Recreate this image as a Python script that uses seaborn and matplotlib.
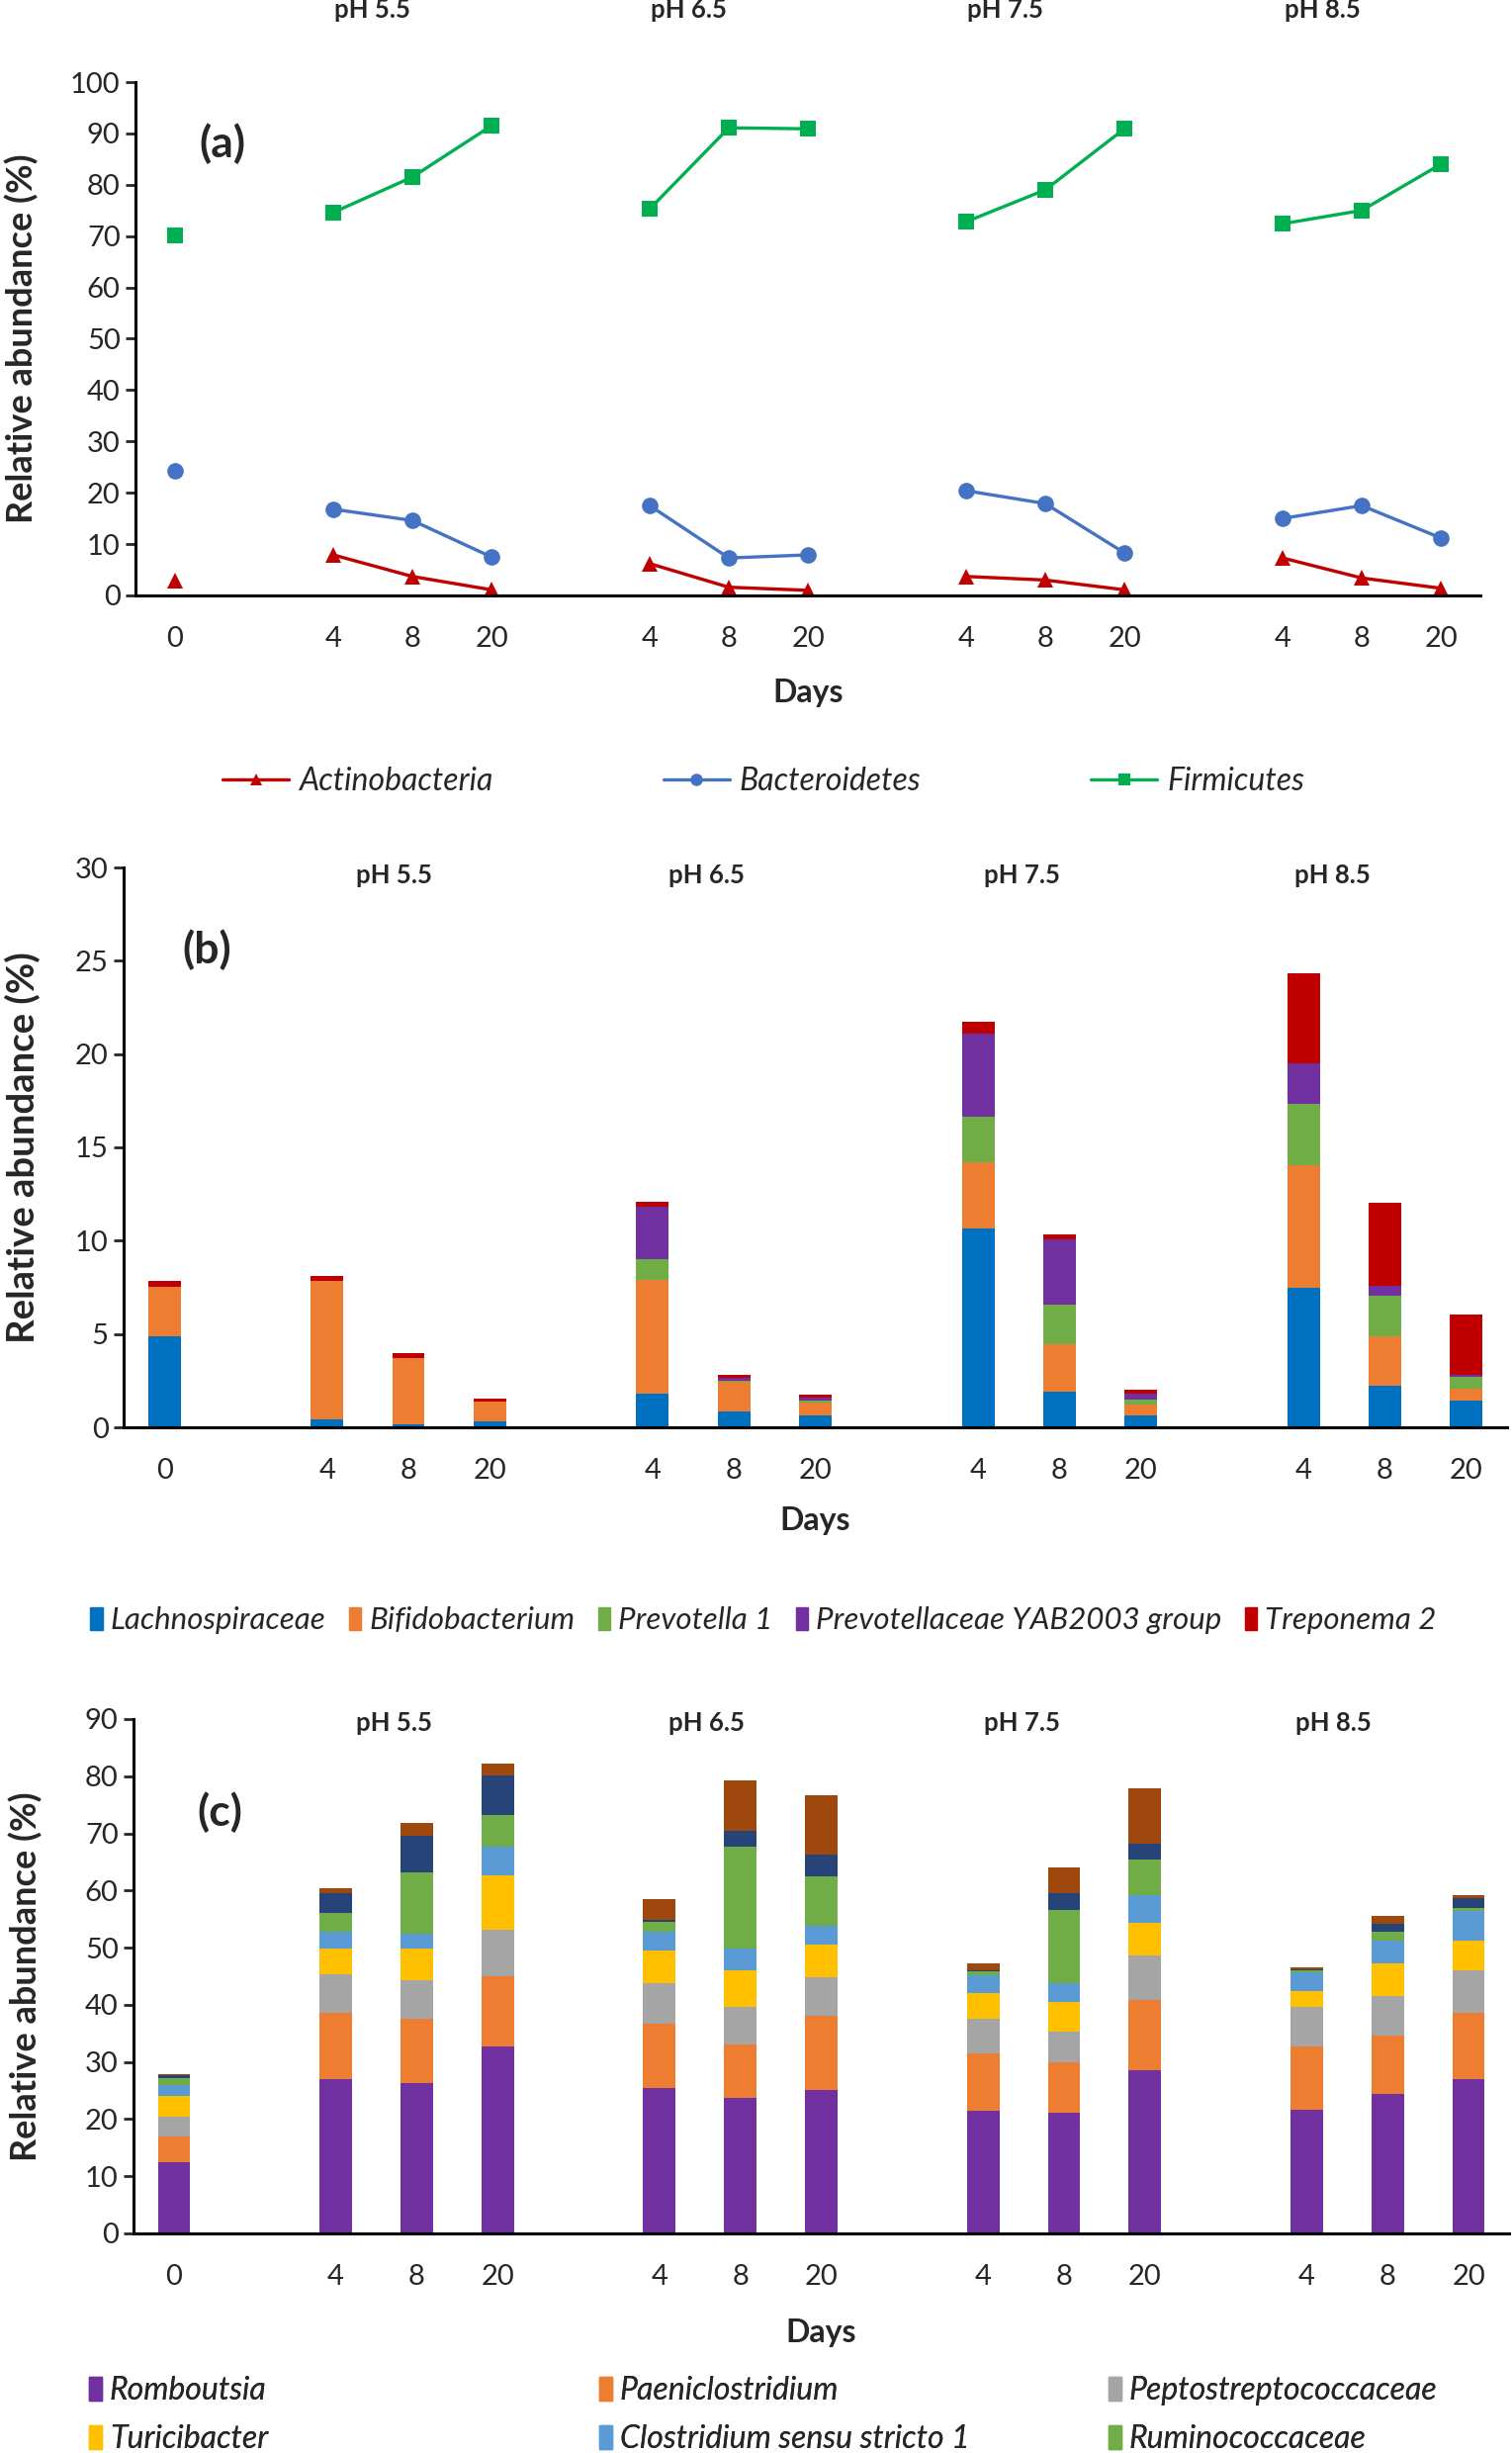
import numpy as np
import pandas as pd
import matplotlib
matplotlib.use("Agg")
import matplotlib.pyplot as plt
import seaborn as sns
from matplotlib.lines import Line2D
from matplotlib.patches import Patch

# ---- data ----
ph_groups = ["pH 5.5", "pH 6.5", "pH 7.5", "pH 8.5"]
group_days = ["4", "8", "20"]
start_day = "0"

# sample order: day 0, then pH 5.5 (4, 8, 20), pH 6.5, pH 7.5, pH 8.5
# (a) phyla
actinobacteria = [2.8, 7.9, 3.7, 1.1, 6.2, 1.6, 1.0, 3.7, 3.0, 1.1, 7.3, 3.4, 1.4]
bacteroidetes = [24.3, 16.8, 14.6, 7.5, 17.5, 7.3, 7.9, 20.4, 17.9, 8.3, 15.0, 17.5, 11.2]
firmicutes = [70.1, 74.6, 81.5, 91.5, 75.3, 91.1, 90.9, 72.8, 79.0, 90.9, 72.4, 75.0, 84.0]

# (b) genera, bottom to top
lachnospiraceae = [4.9, 0.4, 0.15, 0.3, 1.82, 0.83, 0.66, 10.63, 1.92, 0.66, 7.45, 2.24, 1.41]
bifidobacterium = [2.65, 7.45, 3.55, 1.1, 6.1, 1.6, 0.68, 3.55, 2.53, 0.58, 6.61, 2.65, 0.66]
prevotella_1 = [0, 0, 0, 0, 1.1, 0.08, 0.1, 2.46, 2.12, 0.27, 3.26, 2.17, 0.61]
yab2003_group = [0, 0, 0, 0, 2.82, 0.15, 0.14, 4.43, 3.48, 0.31, 2.19, 0.51, 0.12]
treponema_2 = [0.3, 0.27, 0.3, 0.12, 0.27, 0.17, 0.15, 0.68, 0.27, 0.18, 4.82, 4.45, 3.26]

# (c) genera, bottom to top
romboutsia = [12.45, 26.95, 26.29, 32.78, 25.36, 23.77, 25.03, 21.52, 21.19, 28.61, 21.72, 24.37, 26.95]
paeniclostridium = [4.5, 11.66, 11.33, 12.25, 11.26, 9.34, 12.98, 9.94, 8.74, 12.25, 11.06, 10.33, 11.66]
peptostreptococcaceae = [3.51, 6.75, 6.68, 8.08, 7.09, 6.49, 6.76, 6.16, 5.37, 7.75, 6.82, 6.76, 7.35]
turicibacter = [3.58, 4.51, 5.57, 9.61, 5.83, 6.43, 5.83, 4.5, 5.23, 5.76, 2.85, 5.82, 5.23]
clostridium_ss1 = [1.99, 2.91, 2.65, 4.9, 3.31, 3.84, 3.24, 3.11, 3.24, 4.9, 3.31, 3.91, 5.17]
ruminococcaceae = [1.19, 3.25, 10.59, 5.56, 1.65, 17.75, 8.61, 0.6, 12.85, 6.09, 0.27, 1.66, 0.66]
genus_7 = [0.46, 3.51, 6.43, 7.02, 0.33, 2.78, 3.84, 0.2, 2.92, 2.85, 0.26, 1.32, 1.59]
genus_8 = [0.2, 0.92, 2.25, 1.99, 3.65, 8.81, 10.4, 1.25, 4.5, 9.67, 0.33, 1.46, 0.6]

# ---- layout helpers ----
sample_days = [start_day] + group_days * len(ph_groups)
positions = [0]
segments = [0]
for g in range(len(ph_groups)):
    first = positions[-1] + 2
    positions += [first + i for i in range(len(group_days))]
    segments += [g + 1] * len(group_days)
group_mid = [positions[1 + g * 3 + 1] for g in range(len(ph_groups))]

sns.set_style("ticks")
plt.rcParams["font.family"] = ["Lato", "DejaVu Sans"]

W, H = 1529, 2480
fig = plt.figure(figsize=(W / 100, H / 100), dpi=100)
LEG_SIZE = 23


def axes_px(left, right, top, bottom):
    return fig.add_axes([left / W, 1 - bottom / H, (right - left) / W, (bottom - top) / H])


def style_axes(ax, ymax, ystep, ylabel_size, ylabel_x, xlabel_pad):
    ax.set_xlim(-0.5, positions[-1] + 0.5)
    ax.set_ylim(0, ymax)
    ax.set_yticks(np.arange(0, ymax + 0.1, ystep))
    ax.set_xticks(positions)
    ax.set_xticklabels(sample_days)
    sns.despine(ax=ax)
    for s in ["left", "bottom"]:
        ax.spines[s].set_linewidth(2.2)
        ax.spines[s].set_color("black")
    ax.tick_params(axis="y", labelsize=21, length=7, width=2, pad=4)
    ax.tick_params(axis="x", labelsize=21, length=0, pad=22)
    ax.set_ylabel("Relative abundance (%)", fontsize=ylabel_size, fontweight="bold")
    ax.yaxis.set_label_coords(ylabel_x, 0.5)
    ax.set_xlabel("Days", fontsize=23, fontweight="bold", labelpad=xlabel_pad)


# ---- (a) line chart ----
ax_a = axes_px(137, 1497, 83, 602)
colors_a = {"Actinobacteria": "#C00000", "Bacteroidetes": "#4472C4", "Firmicutes": "#00B050"}
markers_a = {"Actinobacteria": "^", "Bacteroidetes": "o", "Firmicutes": "s"}
df_a = pd.concat([
    pd.DataFrame({"pos": positions, "seg": segments, "value": vals, "phylum": name})
    for name, vals in [("Actinobacteria", actinobacteria),
                       ("Bacteroidetes", bacteroidetes),
                       ("Firmicutes", firmicutes)]
])
df_a["unit"] = df_a["phylum"] + df_a["seg"].astype(str)
sns.lineplot(data=df_a, x="pos", y="value", hue="phylum", style="phylum",
             units="unit", estimator=None, markers=markers_a, dashes=False,
             palette=colors_a, markersize=12, markeredgewidth=0, linewidth=2.4,
             legend=False, sort=False, ax=ax_a)
style_axes(ax_a, 100, 10, 26, -0.072, 20)
for g, label in enumerate(ph_groups):
    ax_a.text(group_mid[g] - 0.5, 114, label, ha="center", va="center",
              fontsize=18.5, fontweight="bold", clip_on=False)
ax_a.text(0.6, 88, "(a)", fontsize=32, fontweight="bold", ha="center", va="center")

handles_a = [Line2D([], [], color=colors_a[n], marker=markers_a[n], markersize=9,
                    markeredgewidth=0, linewidth=2.4) for n in colors_a]
fig.legend(handles_a, list(colors_a), loc="center", bbox_to_anchor=(772 / W, 1 - 790 / H),
           ncol=3, frameon=False, columnspacing=5.4, handlelength=2.1, handletextpad=0.3,
           prop={"style": "italic", "size": LEG_SIZE})


# ---- stacked bars helper ----
def stacked(ax, series, colors):
    df = pd.DataFrame({"pos": positions})
    cum = np.zeros(len(positions))
    cols = []
    for name, vals in series:
        cum = cum + np.array(vals)
        df[name] = cum
        cols.append(name)
    for name in reversed(cols):
        sns.barplot(data=df, x="pos", y=name, color=colors[name], width=0.4,
                    native_scale=True, saturation=1, errorbar=None, linewidth=0, ax=ax)


# ---- (b) ----
ax_b = axes_px(125, 1524, 877, 1443)
series_b = [("Lachnospiraceae", lachnospiraceae), ("Bifidobacterium", bifidobacterium),
            ("Prevotella 1", prevotella_1), ("Prevotellaceae YAB2003 group", yab2003_group),
            ("Treponema 2", treponema_2)]
colors_b = {"Lachnospiraceae": "#0070C0", "Bifidobacterium": "#ED7D31", "Prevotella 1": "#70AD47",
            "Prevotellaceae YAB2003 group": "#7030A0", "Treponema 2": "#C00000"}
stacked(ax_b, series_b, colors_b)
style_axes(ax_b, 30, 5, 27.5, -0.06, 17)
for g, (label, off) in enumerate(zip(ph_groups, [-0.18, -0.34, -0.46, -0.64])):
    ax_b.text(group_mid[g] + off, 29.6, label, ha="center", va="center",
              fontsize=18.5, fontweight="bold")
ax_b.text(0.52, 25.6, "(b)", fontsize=32, fontweight="bold", ha="center", va="center")
handles_b = [Patch(color=colors_b[n]) for n, _ in series_b]
fig.legend(handles_b, [n for n, _ in series_b], loc="center",
           bbox_to_anchor=(772 / W, 1 - 1638 / H), ncol=5, frameon=False,
           columnspacing=0.75, handlelength=0.4, handleheight=0.75, handletextpad=0.25,
           prop={"style": "italic", "size": 22.5})

# ---- (c) ----
ax_c = axes_px(135, 1526, 1738, 2258)
series_c = [("Romboutsia", romboutsia), ("Paeniclostridium", paeniclostridium),
            ("Peptostreptococcaceae", peptostreptococcaceae), ("Turicibacter", turicibacter),
            ("Clostridium sensu stricto 1", clostridium_ss1), ("Ruminococcaceae", ruminococcaceae),
            ("genus 7", genus_7), ("genus 8", genus_8)]
colors_c = {"Romboutsia": "#7030A0", "Paeniclostridium": "#ED7D31",
            "Peptostreptococcaceae": "#A5A5A5", "Turicibacter": "#FFC000",
            "Clostridium sensu stricto 1": "#5B9BD5", "Ruminococcaceae": "#70AD47",
            "genus 7": "#264478", "genus 8": "#9E480E"}
stacked(ax_c, series_c, colors_c)
style_axes(ax_c, 90, 10, 26, -0.066, 21)
for g, (label, off) in enumerate(zip(ph_groups, [-0.28, -0.42, -0.52, -0.67])):
    ax_c.text(group_mid[g] + off, 89.3, label, ha="center", va="center",
              fontsize=18.5, fontweight="bold")
ax_c.text(0.57, 73.7, "(c)", fontsize=32, fontweight="bold", ha="center", va="center")

legend_cols = [series_c[0:6:3], series_c[1:6:3], series_c[2:6:3]]
col_x = [90, 606, 1121]
for xs, col in zip(col_x, legend_cols):
    leg = fig.legend([Patch(color=colors_c[n]) for n, _ in col], [n for n, _ in col],
                     loc="upper left", bbox_to_anchor=(xs / W, 1 - 2402 / H), ncol=1,
                     frameon=False, borderpad=0, borderaxespad=0, labelspacing=0.6,
                     handlelength=0.4, handleheight=0.75, handletextpad=0.25,
                     prop={"style": "italic", "size": LEG_SIZE})
    fig.add_artist(leg)

fig.savefig("out.png", dpi=100)
